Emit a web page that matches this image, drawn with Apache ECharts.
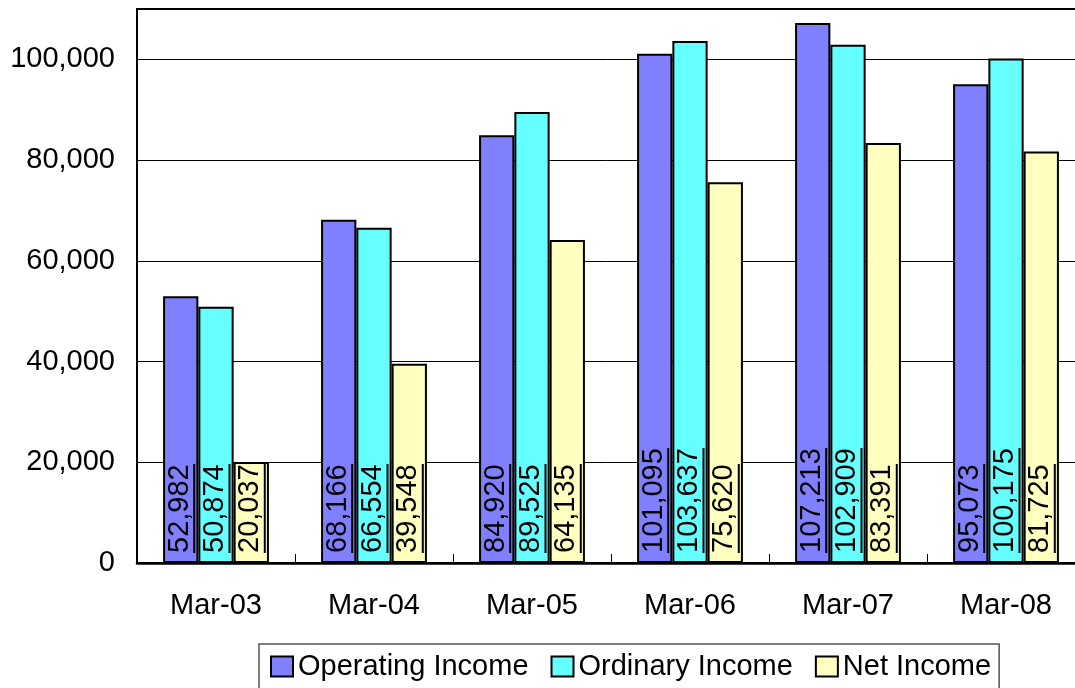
<!DOCTYPE html>
<html>
<head>
<meta charset="utf-8">
<script src="https://cdn.jsdelivr.net/npm/echarts@6/dist/echarts.min.js"></script>
<style>
html,body{margin:0;padding:0;background:#fff;}
#main{width:1075px;height:688px;}
</style>
</head>
<body>
<div id="main"></div>
<script>
var categories = ['Mar-03', 'Mar-04', 'Mar-05', 'Mar-06', 'Mar-07', 'Mar-08'];
var seriesNames = ['Operating Income', 'Ordinary Income', 'Net Income'];
var operatingIncome = [52982, 68166, 84920, 101095, 107213, 95073];
var ordinaryIncome = [50874, 66554, 89525, 103637, 102909, 100175];
var netIncome = [20037, 39548, 64135, 75620, 83391, 81725];
var yTicks = [0, 20000, 40000, 60000, 80000, 100000];

var FONT = '"Liberation Sans", Arial, Helvetica, sans-serif';
var FS = 29;
var colors = ['#8080FF', '#66FFFF', '#FFFFC0'];

function fmt(v) { return Number(v).toLocaleString('en-US'); }
var mctx = document.createElement('canvas').getContext('2d');
mctx.font = FS + 'px "Liberation Sans", Arial, sans-serif';
function textW(s) { return Math.round(mctx.measureText(s).width); }

function makeData(arr) {
  return arr.map(function (v) {
    return { value: v, label: { rich: { u: { width: textW(fmt(v)) } } } };
  });
}

function makeSeries(name, arr, color) {
  return {
    name: name,
    type: 'bar',
    barGap: '0%',
    barCategoryGap: '33%',
    itemStyle: { color: color, borderColor: '#000', borderWidth: 2 },
    label: {
      show: true,
      position: 'insideBottom',
      distance: 10,
      rotate: 90,
      align: 'left',
      verticalAlign: 'middle',
      formatter: function (p) { return '{n|' + fmt(p.value) + '}\n{u| }'; },
      rich: {
        n: { fontSize: FS, lineHeight: 27, color: '#000', fontFamily: FONT },
        u: { backgroundColor: '#000', height: 2, lineHeight: 2, fontSize: 2 }
      }
    },
    data: makeData(arr)
  };
}

var chart = echarts.init(document.getElementById('main'), null, { renderer: 'canvas' });
chart.setOption({
  animation: false,
  backgroundColor: '#fff',
  textStyle: { fontFamily: FONT },
  grid: {
    left: 137, width: 948, top: 9, bottom: 125,
    outerBoundsMode: 'none',
    containLabel: false,
    show: true, borderColor: '#000', borderWidth: 2, backgroundColor: 'transparent'
  },
  legend: {
    left: 259, top: 644,
    itemWidth: 22, itemHeight: 20, itemGap: 22,
    padding: [8, 8, 12, 11],
    borderColor: '#555', borderWidth: 1.5,
    icon: 'rect',
    textStyle: { fontSize: FS, color: '#000', fontFamily: FONT },
    data: seriesNames
  },
  xAxis: {
    type: 'category',
    data: categories,
    axisLine: { lineStyle: { color: '#000', width: 2.5 } },
    axisTick: { show: true, inside: true, length: 9, lineStyle: { color: '#000', width: 1 } },
    axisLabel: { fontSize: FS, color: '#000', margin: 28, fontFamily: FONT }
  },
  yAxis: {
    type: 'value',
    min: 0, max: 110000, interval: 20000,
    axisLine: { show: true, lineStyle: { color: '#000', width: 2 } },
    axisTick: { show: false },
    splitLine: { show: true, lineStyle: { color: '#000', width: 1 } },
    axisLabel: {
      fontSize: FS, color: '#000', margin: 22, fontFamily: FONT,
      formatter: function (v) { return yTicks.indexOf(v) >= 0 ? fmt(v) : ''; }
    }
  },
  series: [
    makeSeries(seriesNames[0], operatingIncome, colors[0]),
    makeSeries(seriesNames[1], ordinaryIncome, colors[1]),
    makeSeries(seriesNames[2], netIncome, colors[2])
  ]
});
</script>
</body>
</html>
